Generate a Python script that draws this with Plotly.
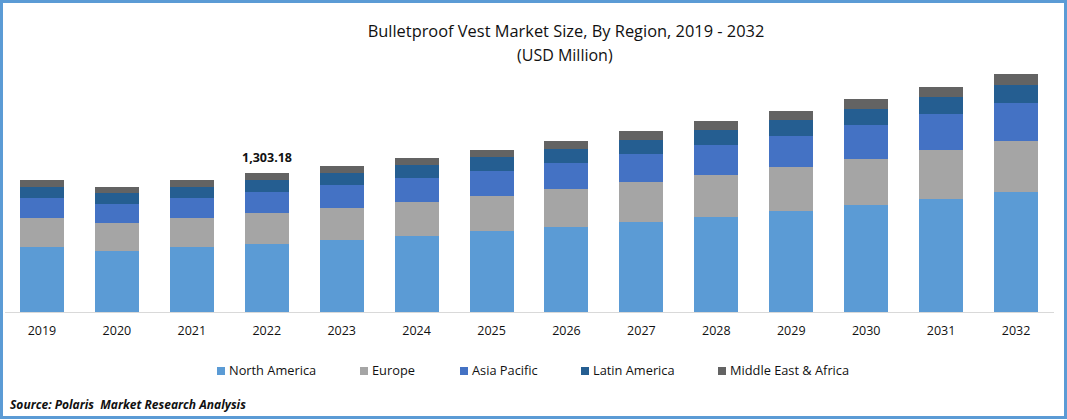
import plotly.graph_objects as go

years = ["2019","2020","2021","2022","2023","2024","2025","2026","2027","2028","2029","2030","2031","2032"]
north_america = [609,572,609,636,675,713,759,797,844,891,947,1003,1059,1125]
europe = [272,263,272,291,300,319,328,356,375,394,413,431,459,478]
asia_pacific = [188,178,188,197,216,225,234,244,263,281,291,319,338,356]
latin_america = [103,103,103,113,113,122,131,131,131,141,150,150,159,169]
mea = [66,56,66,66,66,66,66,75,84,84,84,94,94,103]
series = [("North America",north_america,"#5B9BD5"),("Europe",europe,"#A5A5A5"),
          ("Asia Pacific",asia_pacific,"#4472C4"),("Latin America",latin_america,"#255E91"),
          ("Middle East & Africa",mea,"#636363")]
legend_left = [217,360,460,581,718]
W, H = 1067, 420
FONT = "Open Sans"
INK = "#111111"
fig = go.Figure()
for n, v, c in series:
    fig.add_bar(name=n, x=years, y=v, marker_color=c, marker_line_width=0)

shapes = [dict(type="rect", xref="paper", yref="paper", x0=1.5/W, x1=(W-1.5)/W, y0=1-1.5/H, y1=2.5/H,
               line=dict(color="#5B9BD5", width=3), fillcolor="rgba(0,0,0,0)", layer="above")]
annotations = [
    dict(x=3, y=sum(s[1][3] for s in series), xref="x", yref="y", text="<b>1,303.18</b>", showarrow=False,
         yanchor="bottom", yshift=5, font=dict(size=12.5, color=INK)),
    dict(x=8/W, y=1-404/H, xref="paper", yref="paper", xanchor="left", yanchor="middle", showarrow=False,
         text="<b><i>Source: Polaris  Market Research Analysis</i></b>", font=dict(size=12, color=INK)),
    dict(x=565/W, y=1-55/H, xref="paper", yref="paper", xanchor="center", yanchor="middle", showarrow=False,
         text="(USD Million)", font=dict(size=16, color=INK)),
]
for (n, v, c), left in zip(series, legend_left):
    shapes.append(dict(type="rect", xref="paper", yref="paper", x0=left/W, x1=(left+8)/W,
                       y0=1-375/H, y1=1-367/H, fillcolor=c, line_width=0))
    annotations.append(dict(x=(left+10)/W, y=1-370/H, xref="paper", yref="paper", xanchor="left", yanchor="middle",
                            showarrow=False, text=n, font=dict(size=12.8, color=INK)))

fig.update_layout(
    barmode="stack", bargap=0.413, width=W, height=H, autosize=False, showlegend=False,
    margin=dict(l=0,r=0,t=0,b=0), paper_bgcolor="white", plot_bgcolor="white",
    font=dict(family=FONT, size=12, color=INK),
    title=dict(text="Bulletproof Vest Market Size, By Region, 2019 - 2032",
               x=566/W, xanchor="center", y=1-31/H, yanchor="middle", font=dict(size=16.4, color=INK)),
    xaxis=dict(domain=[4.5/W,1053.5/W], type="category", range=[-0.5,13.5], showline=True, linecolor="#D9D9D9", linewidth=1,
               ticks="outside", ticklen=7, tickcolor="rgba(0,0,0,0)", tickfont=dict(size=12.5, color=INK), automargin=False),
    yaxis=dict(domain=[1-312/H,1-60/H], range=[0,2362.5], visible=False, automargin=False),
    shapes=shapes, annotations=annotations,
)
fig.write_html("out.html", post_script="document.body.style.margin='0';", config={"displayModeBar": False})
